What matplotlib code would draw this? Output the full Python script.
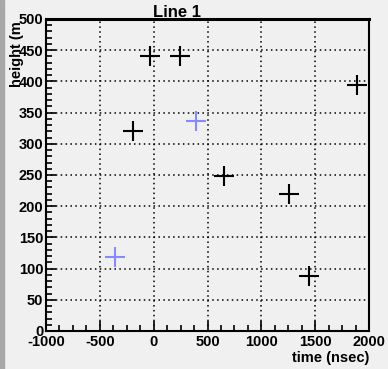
import matplotlib
matplotlib.use("Agg")
import matplotlib.pyplot as plt
from matplotlib.ticker import MultipleLocator
from matplotlib.transforms import Bbox
from matplotlib.patches import Rectangle

# data
black_x = [-37, 247, -190, 650, 1260, 1440, 1890]
black_y = [440, 440, 321, 248, 220, 88, 394]
blue_x = [-360, 390]
blue_y = [118, 337]

title = "Line 1"
xlabel = "time (nsec)"
ylabel = "height (m)"

plt.rcParams['font.family'] = ['Liberation Sans', 'DejaVu Sans']
plt.rcParams['font.weight'] = 'bold'
plt.rcParams['axes.unicode_minus'] = False

bg = '#f0f0f0'
fig = plt.figure(figsize=(3.88, 3.69), dpi=100, facecolor=bg)
fig.patches.append(Rectangle((0, 0), 4 / 388, 1, transform=fig.transFigure,
                             color='#a8a8a8', zorder=0))

ax = fig.add_axes([46 / 388, 38 / 369, 323 / 388, 312 / 369])
ax.set_facecolor(bg)

ax.plot(black_x, black_y, '+', color='black', ms=14, mew=1.5, zorder=3)
ax.plot(blue_x, blue_y, '+', color='#8888ff', ms=14, mew=1.5, zorder=3)

ax.set_xlim(-1000, 2000)
ax.set_ylim(0, 500)
ax.xaxis.set_major_locator(MultipleLocator(500))
ax.xaxis.set_minor_locator(MultipleLocator(125))
ax.yaxis.set_major_locator(MultipleLocator(50))
ax.yaxis.set_minor_locator(MultipleLocator(10))

ax.tick_params(which='both', direction='in', top=False, right=False,
               labelsize=10.5, width=1.2, color='black')
ax.tick_params(which='major', length=7)
ax.tick_params(which='minor', length=4)
ax.tick_params(axis='x', pad=3)
ax.tick_params(axis='y', pad=2)
for lbl in ax.get_xticklabels() + ax.get_yticklabels():
    lbl.set_fontweight('bold')

ax.grid(True, which='major', color='black', linestyle=(0, (1, 2.2)), linewidth=1.1)

for side in ['left', 'bottom', 'right']:
    ax.spines[side].set_linewidth(1.5)
ax.spines['top'].set_linewidth(2.2)

fig.text(177 / 388, 1 - 17 / 369, title, ha='center', va='baseline',
         fontsize=12, fontweight='bold')
fig.text(369 / 388, 1 - 362 / 369, xlabel, ha='right', va='baseline',
         fontsize=10.5, fontweight='bold')

# y title sits at the top of the axis, the part above the frame is cut off
yl = fig.text(24 / 388, 1 - 16 / 369, ylabel, ha='right', va='bottom',
              rotation=90, rotation_mode='anchor', fontsize=10.5, fontweight='bold')
yl.set_clip_box(Bbox.from_extents(0, 0, 388, 369 - 22))
yl.set_clip_on(True)

fig.savefig('out.png', dpi=100, facecolor=bg)
